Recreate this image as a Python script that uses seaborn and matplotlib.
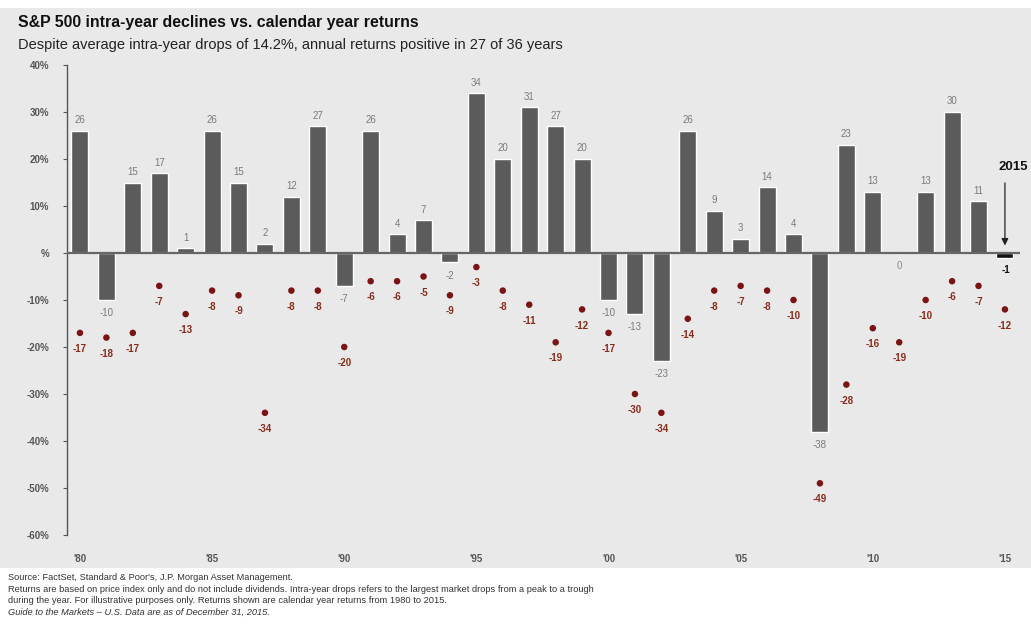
import numpy as np
import pandas as pd
import matplotlib
matplotlib.use("Agg")
import matplotlib.pyplot as plt
import seaborn as sns

years = list(range(1980, 2016))
returns = [26, -10, 15, 17, 1, 26, 15, 2, 12, 27, -7, 26, 4, 7, -2, 34, 20, 31, 27, 20,
           -10, -13, -23, 26, 9, 3, 14, 4, -38, 23, 13, 0, 13, 30, 11, -1]
drops = [-17, -18, -17, -7, -13, -8, -9, -34, -8, -8, -20, -6, -6, -5, -9, -3, -8, -11, -19, -12,
         -17, -30, -34, -14, -8, -7, -8, -10, -49, -28, -16, -19, -10, -6, -7, -12]
ytick_vals = [40, 30, 20, 10, 0, -10, -20, -30, -40, -50, -60]
ytick_labels = ["40%", "30%", "20%", "10%", "%", "-10%", "-20%", "-30%", "-40%", "-50%", "-60%"]
xtick_years = [1980, 1985, 1990, 1995, 2000, 2005, 2010, 2015]
xtick_labels = ["'80", "'85", "'90", "'95", "'00", "'05", "'10", "'15"]

title = "S&P 500 intra-year declines vs. calendar year returns"
subtitle = "Despite average intra-year drops of 14.2%, annual returns positive in 27 of 36 years"
footer = [
    ("Source: FactSet, Standard & Poor's, J.P. Morgan Asset Management.", "normal"),
    ("Returns are based on price index only and do not include dividends. Intra-year drops refers to the largest market drops from a peak to a trough", "normal"),
    ("during the year. For illustrative purposes only. Returns shown are calendar year returns from 1980 to 2015.", "normal"),
    ("Guide to the Markets \u2013 U.S. Data are as of December 31, 2015.", "italic"),
]

df = pd.DataFrame({"year": years, "ret": returns, "drop": drops})

sns.set_theme(style="white")
plt.rcParams["font.family"] = ["Liberation Sans", "DejaVu Sans"]

W, H = 1031, 628
fig = plt.figure(figsize=(W / 100, H / 100), dpi=100)
fig.patch.set_facecolor("white")
bg = matplotlib.patches.Rectangle((0, 1 - 568 / H), 1, (568 - 8) / H, transform=fig.transFigure,
                                  facecolor="#e9e9e9", edgecolor="none", zorder=-10)
fig.patches.append(bg)

ax = fig.add_axes([67 / W, 1 - 535 / H, (1020 - 67) / W, (535 - 65) / H])
ax.set_facecolor("none")

sns.barplot(data=df, x="year", y="ret", native_scale=True, width=0.64, color="#5b5b5b",
            saturation=1, ax=ax, errorbar=None, zorder=2)
# last bar (2015) in black
ax.patches[-1].set_facecolor("#111111")

sns.scatterplot(data=df, x="year", y="drop", color="#7a1414", s=22, edgecolor="none",
                ax=ax, zorder=3, legend=False)

ax.axhline(0, color="#666666", lw=1.6, zorder=4)

# labels for returns
for yr, r in zip(years, returns):
    if yr == 2015:
        ax.annotate(f"{r}", (yr, r), xytext=(1, -5), textcoords="offset points",
                    ha="center", va="top", fontsize=7, color="#111111", fontweight="bold")
    elif r > 0:
        ax.annotate(f"{r}", (yr, r), xytext=(0, 4), textcoords="offset points",
                    ha="center", va="bottom", fontsize=7, color="#7a7a7a")
    elif r == 0:
        ax.annotate(f"{r}", (yr, r), xytext=(0, -6), textcoords="offset points",
                    ha="center", va="top", fontsize=7, color="#8a8a8a")
    else:
        ax.annotate(f"{r}", (yr, r), xytext=(0, -6), textcoords="offset points",
                    ha="center", va="top", fontsize=7, color="#7a7a7a")

for yr, d in zip(years, drops):
    ax.annotate(f"{d}", (yr, d), xytext=(0, -8), textcoords="offset points",
                ha="center", va="top", fontsize=7, color="#8b2a1a", fontweight="bold")

# 2015 annotation
ax.annotate("", xy=(2015, 1.0), xytext=(2015, 15.5),
            arrowprops=dict(arrowstyle="-|>", color="#222222", lw=0.9, mutation_scale=10))
ax.text(2015.3, 18.3, "2015", ha="center", va="center", fontsize=9.5, fontweight="bold",
        color="#111111")

ax.set_xlim(1979.51, 2015.57)
ax.set_ylim(-60, 40)
ax.set_yticks(ytick_vals)
ax.set_yticklabels(ytick_labels, fontsize=7, color="#555555", fontweight="bold")
ax.set_xticks(xtick_years)
ax.set_xticklabels(xtick_labels, fontsize=7, color="#555555", fontweight="bold")
ax.tick_params(axis="x", length=0, pad=14)
ax.tick_params(axis="y", length=3, width=0.8, color="#555555", direction="out", pad=10, left=True)
ax.set_xlabel("")
ax.set_ylabel("")
for s in ["top", "right", "bottom"]:
    ax.spines[s].set_visible(False)
ax.spines["left"].set_color("#555555")
ax.spines["left"].set_linewidth(1.0)

fig.text(18 / W, 1 - 22 / H, title, fontsize=11.4, fontweight="bold", color="#111111",
         ha="left", va="center")
fig.text(18 / W, 1 - 45 / H, subtitle, fontsize=10.5, color="#222222", ha="left", va="center")

for i, (line, style) in enumerate(footer):
    fig.text(8 / W, 1 - (578 + i * 11.3) / H, line, fontsize=6.7, color="#333333",
             style=style, ha="left", va="center")

fig.savefig("out.png", dpi=100, facecolor=fig.get_facecolor())
